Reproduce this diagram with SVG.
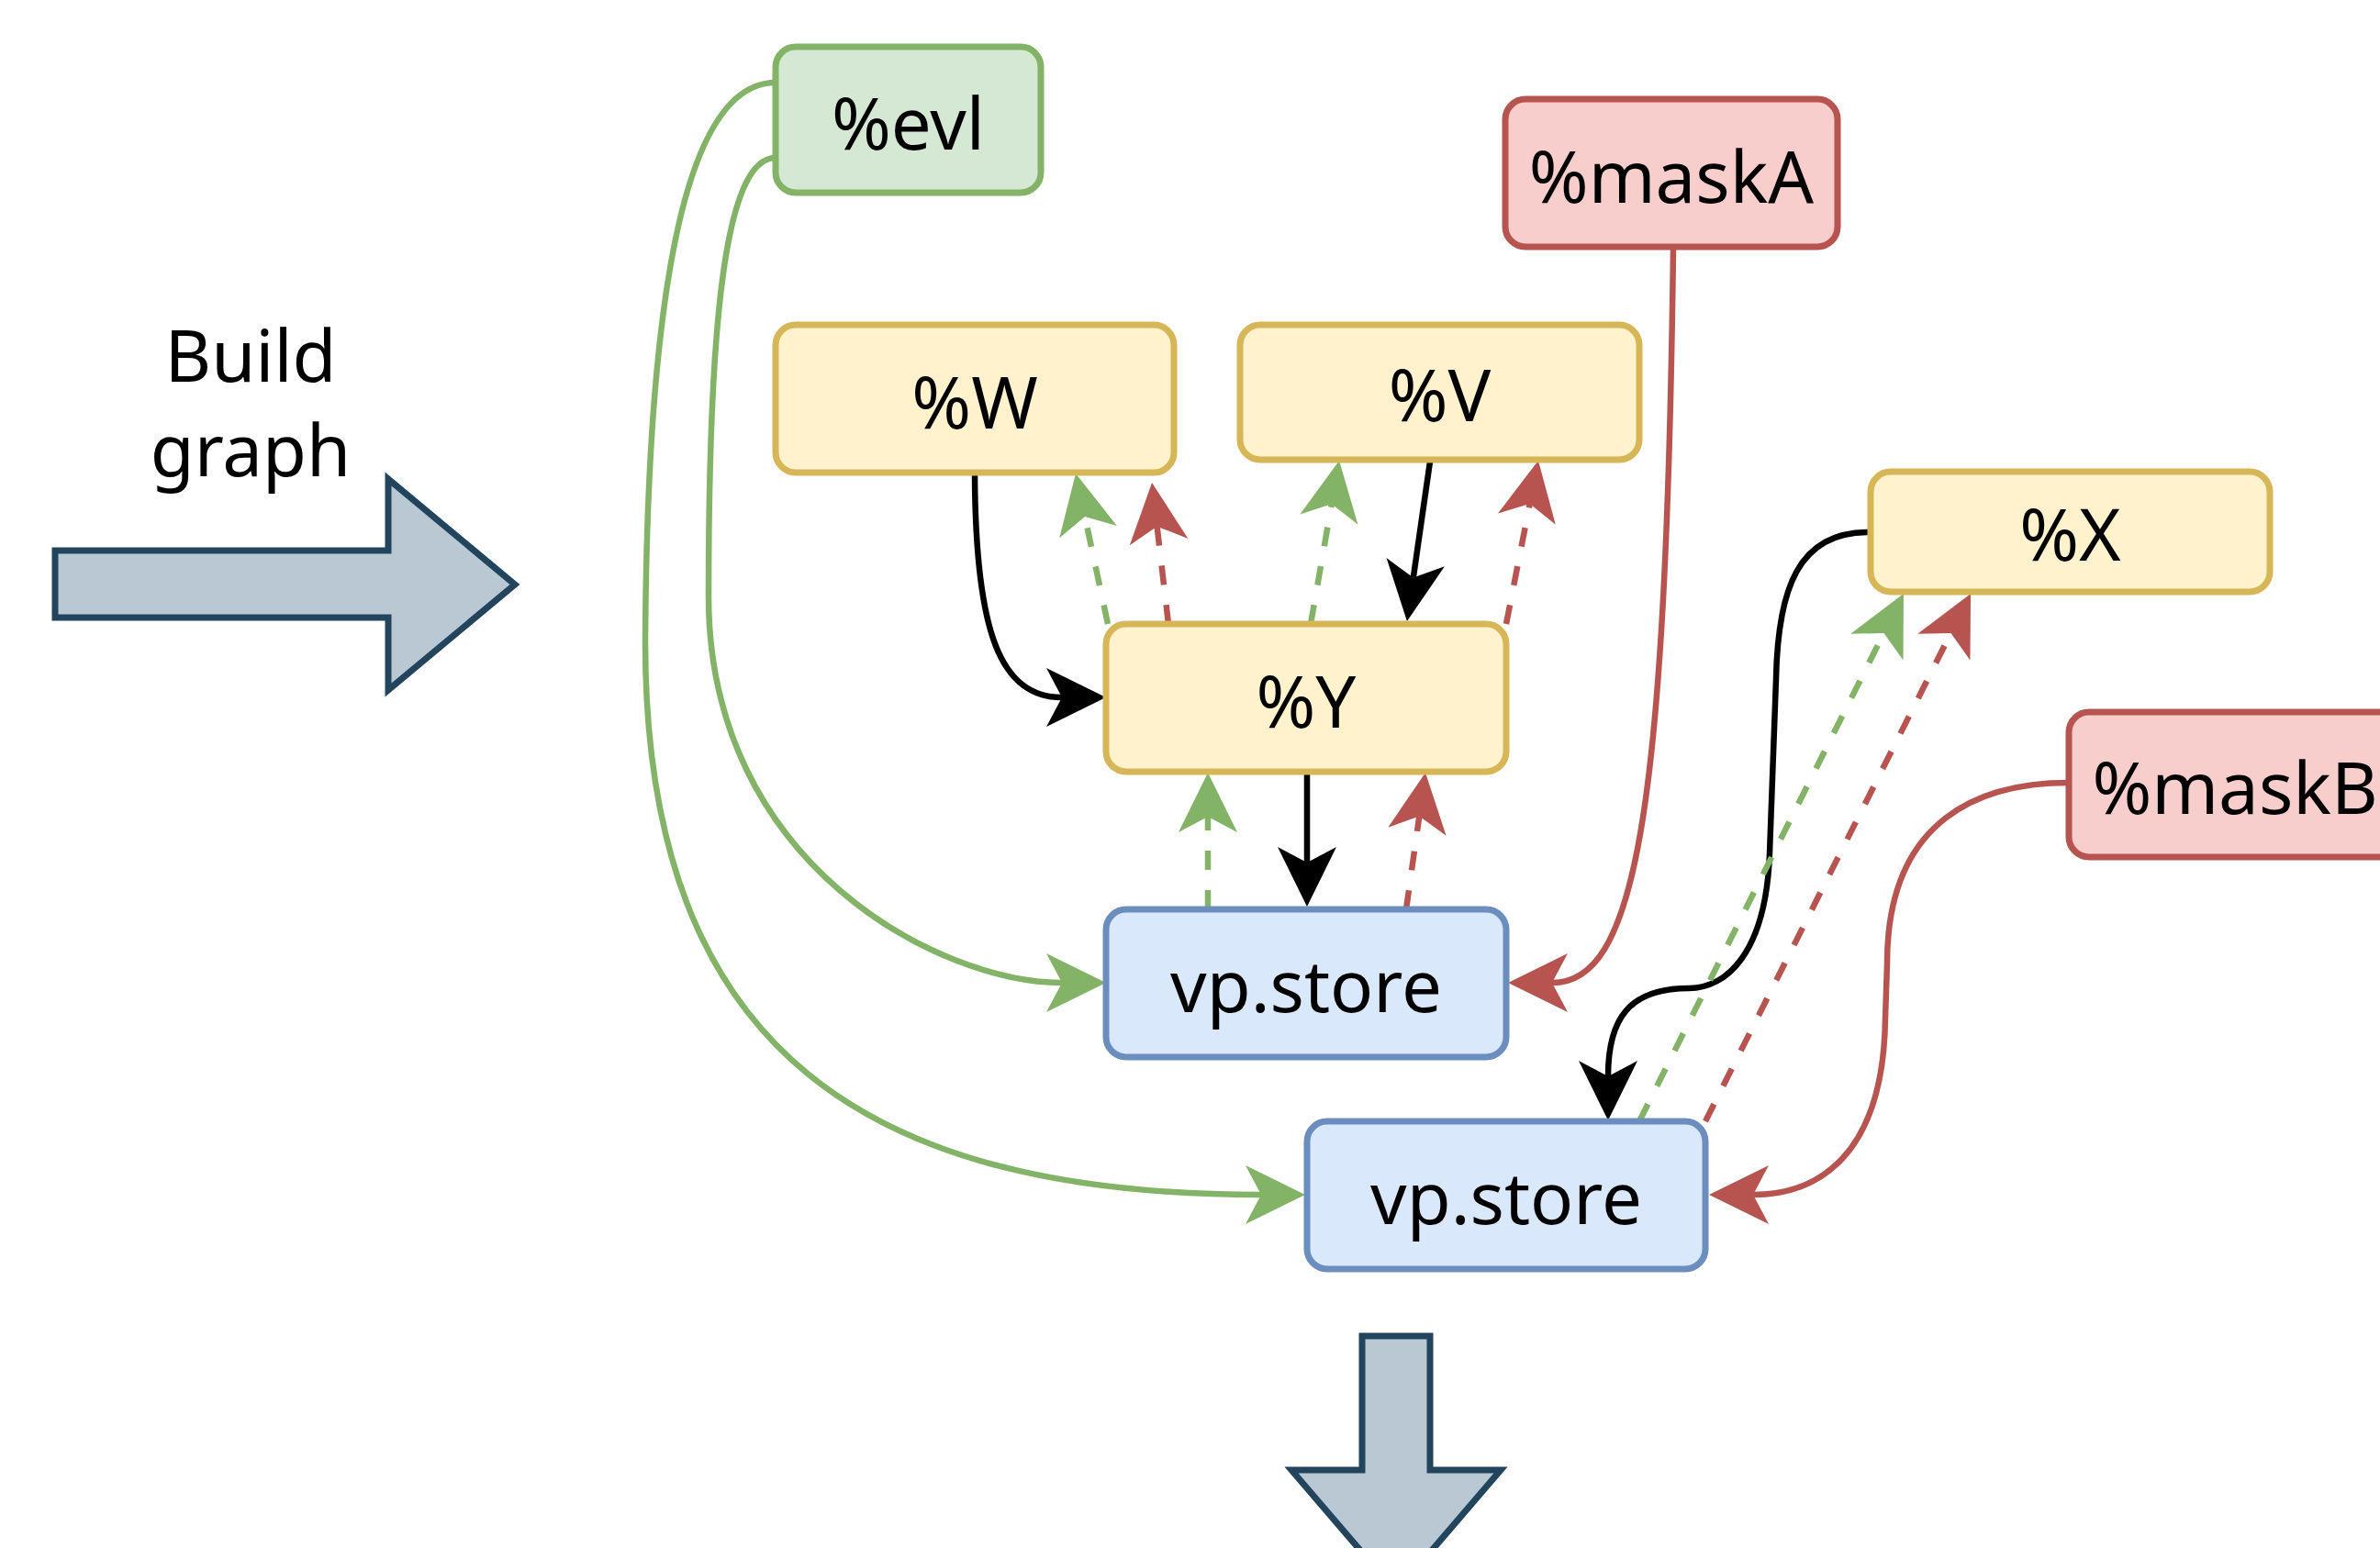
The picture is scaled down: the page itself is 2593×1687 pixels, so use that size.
<svg xmlns="http://www.w3.org/2000/svg" width="2593" height="1687" viewBox="0 0 2593 1687">
<style>
.box{stroke-width:7}
.g{fill:#d5e8d4;stroke:#82b366}
.y{fill:#fff2cc;stroke:#d6b656}
.r{fill:#f8cecc;stroke:#b85450}
.b{fill:#dae8fc;stroke:#6c8ebf}
.lbl{font-family:"Noto Sans","Liberation Sans",sans-serif;font-size:78px;fill:#000;text-anchor:middle}
.c{fill:none;stroke-width:6.5}
.ck{stroke:#000}
.cg{stroke:#82b366}
.cr{stroke:#b85450}
.d{stroke-dasharray:21 22}
.big{fill:#bac8d3;stroke:#23445d;stroke-width:7}
</style>
<defs>
<marker id="mk" markerUnits="userSpaceOnUse" markerWidth="120" markerHeight="120" refX="0" refY="0" orient="auto" overflow="visible" viewBox="-60 -60 120 120"><path d="M48,0 L-17,-32 L0,0 L-17,32 Z" fill="#000"/></marker>
<marker id="mg" markerUnits="userSpaceOnUse" markerWidth="120" markerHeight="120" refX="0" refY="0" orient="auto" overflow="visible" viewBox="-60 -60 120 120"><path d="M48,0 L-17,-32 L0,0 L-17,32 Z" fill="#82b366"/></marker>
<marker id="mr" markerUnits="userSpaceOnUse" markerWidth="120" markerHeight="120" refX="0" refY="0" orient="auto" overflow="visible" viewBox="-60 -60 120 120"><path d="M48,0 L-17,-32 L0,0 L-17,32 Z" fill="#b85450"/></marker>
</defs>

<g id="build-arrow">
<polygon class="big" points="60,600 423,600 423,522 561,637 423,752 423,673 60,673"/>
<text class="lbl" x="273" y="416">Build</text>
<text class="lbl" x="273" y="519">graph</text>
</g>
<g id="down-arrow">
<polygon class="big" points="1484,1456 1558,1456 1558,1602 1635,1602 1521,1735 1407,1602 1484,1602"/>
</g>

<g id="connectors">
<path class="c cg" marker-end="url(#mg)" d="M845,90 C740,90 705,350 703,700 C703,1150 950,1302 1374,1302"/>
<path class="c cg" marker-end="url(#mg)" d="M845,172 C790,172 772,350 772,650 C772,942 1024,1071 1157,1071"/>
<path class="c ck" marker-end="url(#mk)" d="M1062,518 C1063,690 1090,760 1157,760"/>
<path class="c cg d" marker-end="url(#mg)" d="M1207,680 L1182,563"/>
<path class="c cr d" marker-end="url(#mr)" d="M1273,680 L1260.6,573.7"/>
<path class="c cg d" marker-end="url(#mg)" d="M1428,680 L1450.8,549.3"/>
<path class="c ck" marker-end="url(#mk)" d="M1558,503 L1539.8,629.5"/>
<path class="c cr d" marker-end="url(#mr)" d="M1641,680 L1666.7,549"/>
<path class="c cg d" marker-end="url(#mg)" d="M1316,991 L1316,890"/>
<path class="c ck" marker-end="url(#mk)" d="M1424,842 L1424,940"/>
<path class="c cr d" marker-end="url(#mr)" d="M1532,991 L1546.3,889.5"/>
<path class="c cr" marker-end="url(#mr)" d="M1823,271 C1815,900 1780,1071 1691,1071"/>
<path class="c ck" marker-end="url(#mk)" d="M2035,580 C1960,580 1937,640 1935,740 L1928,930 C1924,1040 1880,1077 1840,1077 C1775,1077 1752,1110 1752,1173"/>
<path class="c cg d" marker-end="url(#mg)" d="M1786,1222 L2052.5,689.9"/>
<path class="c cr d" marker-end="url(#mr)" d="M1858,1222 L2125.5,689.9"/>
<path class="c cr" marker-end="url(#mr)" d="M2254,853 C2160,853 2056,890 2056,1050 L2054,1110 C2052,1260 1980,1302 1910,1302"/>
</g>

<g id="evl"><rect class="box g" x="845" y="51" width="289" height="159" rx="22"/><text class="lbl" x="989.5" y="163">%evl</text></g>
<g id="maskA"><rect class="box r" x="1640" y="108" width="362" height="161" rx="22"/><text class="lbl" x="1821" y="221">%maskA</text></g>
<g id="W"><rect class="box y" x="845" y="354" width="434" height="161" rx="22"/><text class="lbl" x="1062" y="467">%W</text></g>
<g id="V"><rect class="box y" x="1351" y="354" width="435" height="147" rx="22"/><text class="lbl" x="1568.5" y="459">%V</text></g>
<g id="X"><rect class="box y" x="2038" y="514" width="435" height="131" rx="22"/><text class="lbl" x="2255.5" y="611">%X</text></g>
<g id="Y"><rect class="box y" x="1205" y="680" width="436" height="161" rx="22"/><text class="lbl" x="1423" y="793">%Y</text></g>
<g id="maskB"><rect class="box r" x="2254" y="776" width="362" height="158" rx="22"/><text class="lbl" x="2435" y="887">%maskB</text></g>
<g id="store1"><rect class="box b" x="1205" y="991" width="436" height="161" rx="22"/><text class="lbl" x="1423" y="1103">vp.store</text></g>
<g id="store2"><rect class="box b" x="1424" y="1222" width="434" height="161" rx="22"/><text class="lbl" x="1641" y="1334">vp.store</text></g>
</svg>
